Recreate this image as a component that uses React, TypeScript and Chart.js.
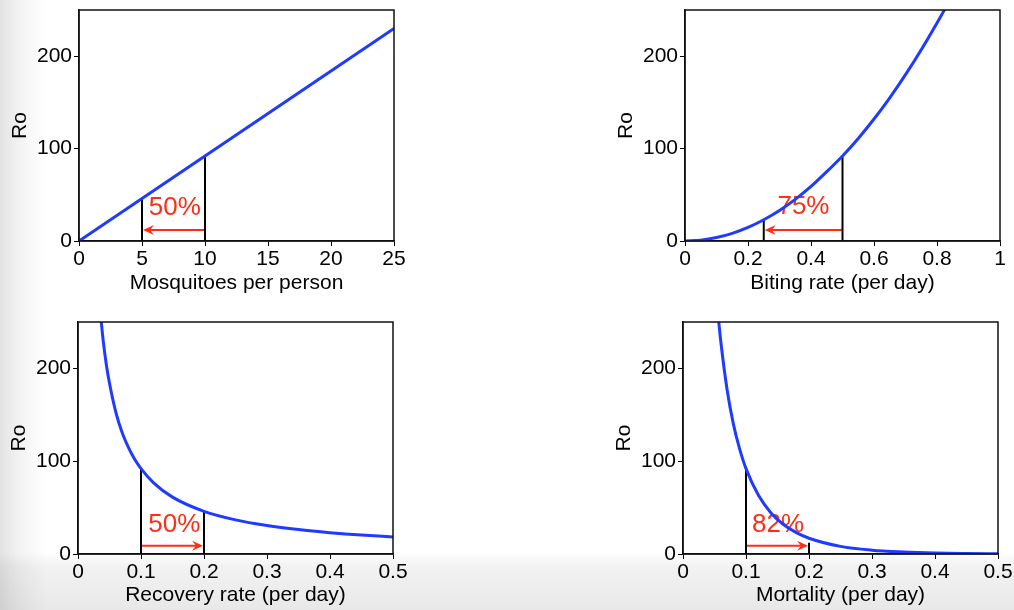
import React, { useEffect, useRef } from "react";
import { Chart, registerables } from "chart.js";

Chart.register(...registerables);
Chart.defaults.font.family = "'Liberation Sans', Arial, Helvetica, sans-serif";

// ---- Data ----
// Panel 1: Mosquitoes per person
const mosqX = [0, 5, 10, 15, 20, 25];
const mosqRo = [0, 46, 92, 138, 184, 230];
const mosqTicks = [0, 5, 10, 15, 20, 25];
const mosqMarkX = [5, 10];
const mosqMarkH = [46, 92];

// Panel 2: Biting rate
const bitingX = [0, 0.05, 0.1, 0.15, 0.2, 0.25, 0.3, 0.35, 0.4, 0.45, 0.5, 0.55, 0.6, 0.65, 0.7, 0.75, 0.8, 0.83];
const bitingRo = [0, 0.9, 3.7, 8.3, 14.7, 23, 33, 45, 59, 75, 92, 111, 132, 155, 180, 207, 236, 254];
const bitingTicks = [0, 0.2, 0.4, 0.6, 0.8, 1];
const bitingMarkX = [0.25, 0.5];
const bitingMarkH = [23, 92];

// Panel 3: Recovery rate
const recovX = [0.035, 0.04, 0.045, 0.05, 0.06, 0.07, 0.08, 0.09, 0.1, 0.12, 0.15, 0.2, 0.25, 0.3, 0.35, 0.4, 0.45, 0.5];
const recovRo = [263, 230, 204, 184, 153, 131, 115, 102, 92, 76.7, 61.3, 46, 36.8, 30.7, 26.3, 23, 20.4, 18.4];
const recovTicks = [0, 0.1, 0.2, 0.3, 0.4, 0.5];
const recovMarkX = [0.1, 0.2];
const recovMarkH = [92, 46];

// Panel 4: Mortality
const mortX = [0.055, 0.06, 0.07, 0.08, 0.09, 0.1, 0.12, 0.14, 0.16, 0.18, 0.2, 0.25, 0.3, 0.35, 0.4, 0.45, 0.5];
const mortRo = [262, 229, 177, 140, 113, 92, 63, 44, 31.5, 23, 17, 8.2, 4.1, 2.2, 1.1, 0.6, 0.3];
const mortTicks = [0, 0.1, 0.2, 0.3, 0.4, 0.5];
const mortMarkX = [0.1, 0.2];
const mortMarkH = [92, 12];

const roTicks = [0, 100, 200];
const roMax = 250;

// arrows: [from, to, y]; labels: [text, x, y]
const mosqArrow = [10, 5, 12];
const bitingArrow = [0.5, 0.25, 12];
const recovArrow = [0.1, 0.2, 9];
const mortArrow = [0.1, 0.2, 9];
const mosqLabel = ["50%", 7.6, 36];
const bitingLabel = ["75%", 0.376, 37];
const recovLabel = ["50%", 0.153, 31];
const mortLabel = ["82%", 0.151, 31];

const BLUE = "#1f3bff";
const RED = "#ff2d14";

type PanelProps = {
  left: number;
  top: number;
  width: number;
  height: number;
  padTop: number;
  padRight: number;
  yW: number;
  xH: number;
  xs: number[];
  ys: number[];
  xMax: number;
  xTicks: number[];
  markX: number[];
  markH: number[];
  arrow: number[];
  label: (string | number)[];
  xTitle: string;
};

function Panel(p: PanelProps) {
  const ref = useRef<HTMLCanvasElement | null>(null);
  useEffect(() => {
    if (!ref.current) return;
    const annot = {
      id: "annot",
      beforeDatasetsDraw(chart: any) {
        const { ctx, scales } = chart;
        const xs = scales.x;
        const ysc = scales.y;
        ctx.save();
        ctx.fillStyle = RED;
        ctx.font = "26px 'Liberation Sans', Arial, sans-serif";
        ctx.textAlign = "center";
        ctx.textBaseline = "middle";
        ctx.fillText(
          String(p.label[0]),
          xs.getPixelForValue(p.label[1] as number),
          ysc.getPixelForValue(p.label[2] as number)
        );
        const x0 = xs.getPixelForValue(p.arrow[0]);
        const x1 = xs.getPixelForValue(p.arrow[1]);
        const y = ysc.getPixelForValue(p.arrow[2]);
        const dir = x1 > x0 ? 1 : -1;
        const tip = x1 - dir * 1;
        ctx.strokeStyle = RED;
        ctx.lineWidth = 2;
        ctx.beginPath();
        ctx.moveTo(x0, y);
        ctx.lineTo(tip - dir * 6, y);
        ctx.stroke();
        ctx.beginPath();
        ctx.moveTo(tip, y);
        ctx.lineTo(tip - dir * 11, y - 5);
        ctx.lineTo(tip - dir * 7, y);
        ctx.lineTo(tip - dir * 11, y + 5);
        ctx.closePath();
        ctx.fillStyle = RED;
        ctx.fill();
        ctx.restore();
      },
      afterDatasetsDraw(chart: any) {
        const { ctx, chartArea } = chart;
        ctx.save();
        ctx.strokeStyle = "#111";
        ctx.lineWidth = 1.5;
        ctx.strokeRect(chartArea.left, chartArea.top, chartArea.right - chartArea.left, chartArea.bottom - chartArea.top);
        ctx.restore();
      },
    };
    const tickFont = { size: 21 };
    const titleFont = { size: 21 };
    const chart = new Chart(ref.current, {
      type: "line",
      data: {
        datasets: [
          {
            data: p.xs.map((x, i) => ({ x, y: p.ys[i] })),
            borderColor: BLUE,
            borderWidth: 3,
            pointRadius: 0,
            cubicInterpolationMode: "monotone",
            fill: false,
          },
          {
            data: [
              { x: p.markX[0], y: 0 },
              { x: p.markX[0], y: p.markH[0] },
            ],
            borderColor: "#000",
            borderWidth: 2,
            pointRadius: 0,
            fill: false,
          },
          {
            data: [
              { x: p.markX[1], y: 0 },
              { x: p.markX[1], y: p.markH[1] },
            ],
            borderColor: "#000",
            borderWidth: 2,
            pointRadius: 0,
            fill: false,
          },
        ],
      } as any,
      options: {
        animation: false,
        responsive: false,
        events: [],
        plugins: { legend: { display: false }, tooltip: { enabled: false } },
        layout: { padding: { top: p.padTop, right: p.padRight, bottom: 1, left: 0 } },
        scales: {
          x: {
            type: "linear",
            min: 0,
            max: p.xMax,
            afterBuildTicks: (s: any) => {
              s.ticks = p.xTicks.map((v) => ({ value: v }));
            },
            afterFit: (s: any) => {
              s.height = p.xH;
              s.paddingLeft = 0;
              s.paddingRight = 0;
            },
            ticks: {
              callback: (v: any) => String(v),
              font: tickFont,
              color: "#000",
              padding: 1,
              maxRotation: 0,
              autoSkip: false,
            },
            grid: { drawOnChartArea: false, drawTicks: true, tickLength: 5, color: "#000", lineWidth: 1 },
            border: { display: true, color: "#111", width: 1.5 },
            title: { display: true, text: p.xTitle, font: titleFont, color: "#000", padding: { top: 4, bottom: 3 } },
          },
          y: {
            type: "linear",
            min: 0,
            max: roMax,
            afterBuildTicks: (s: any) => {
              s.ticks = roTicks.map((v) => ({ value: v }));
            },
            afterFit: (s: any) => {
              s.width = p.yW;
              s.paddingTop = 0;
              s.paddingBottom = 0;
            },
            ticks: {
              callback: (v: any) => String(v),
              font: tickFont,
              color: "#000",
              padding: 2,
              autoSkip: false,
            },
            grid: { drawOnChartArea: false, drawTicks: true, tickLength: 5, color: "#000", lineWidth: 1 },
            border: { display: true, color: "#111", width: 1.5 },
            title: { display: true, text: "Ro", font: titleFont, color: "#000", padding: { top: 8, bottom: 4 } },
          },
        },
      } as any,
      plugins: [annot],
    });
    return () => chart.destroy();
  }, []);
  return (
    <canvas
      ref={ref}
      width={p.width}
      height={p.height}
      style={{ position: "absolute", left: p.left, top: p.top, width: p.width, height: p.height }}
    />
  );
}

export default function App() {
  return (
    <div
      style={{
        position: "fixed",
        left: 0,
        top: 0,
        width: 1014,
        height: 610,
        overflow: "hidden",
        background: "#fff",
      }}
    >
      <div
        style={{
          position: "absolute",
          left: 0,
          top: 0,
          width: 46,
          height: 610,
          background: "linear-gradient(to right, rgba(0,0,0,0.11), rgba(0,0,0,0.05) 40%, rgba(0,0,0,0))",
        }}
      />
      <div
        style={{
          position: "absolute",
          left: 0,
          top: 552,
          width: 1014,
          height: 58,
          background: "linear-gradient(to bottom, rgba(0,0,0,0), rgba(0,0,0,0.05) 25%, rgba(0,0,0,0.09))",
        }}
      />
      <Panel
        left={0} top={0} width={414} height={300}
        padTop={10} padRight={20} yW={79} xH={58}
        xs={mosqX} ys={mosqRo} xMax={25} xTicks={mosqTicks}
        markX={mosqMarkX} markH={mosqMarkH} arrow={mosqArrow} label={mosqLabel}
        xTitle="Mosquitoes per person"
      />
      <Panel
        left={606} top={0} width={408} height={300}
        padTop={10} padRight={14} yW={79} xH={58}
        xs={bitingX} ys={bitingRo} xMax={1} xTicks={bitingTicks}
        markX={bitingMarkX} markH={bitingMarkH} arrow={bitingArrow} label={bitingLabel}
        xTitle="Biting rate (per day)"
      />
      <Panel
        left={-1} top={312} width={414} height={300}
        padTop={10} padRight={20} yW={79} xH={57}
        xs={recovX} ys={recovRo} xMax={0.5} xTicks={recovTicks}
        markX={recovMarkX} markH={recovMarkH} arrow={recovArrow} label={recovLabel}
        xTitle="Recovery rate (per day)"
      />
      <Panel
        left={604} top={312} width={410} height={300}
        padTop={10} padRight={16} yW={79} xH={57}
        xs={mortX} ys={mortRo} xMax={0.5} xTicks={mortTicks}
        markX={mortMarkX} markH={mortMarkH} arrow={mortArrow} label={mortLabel}
        xTitle="Mortality (per day)"
      />
    </div>
  );
}
